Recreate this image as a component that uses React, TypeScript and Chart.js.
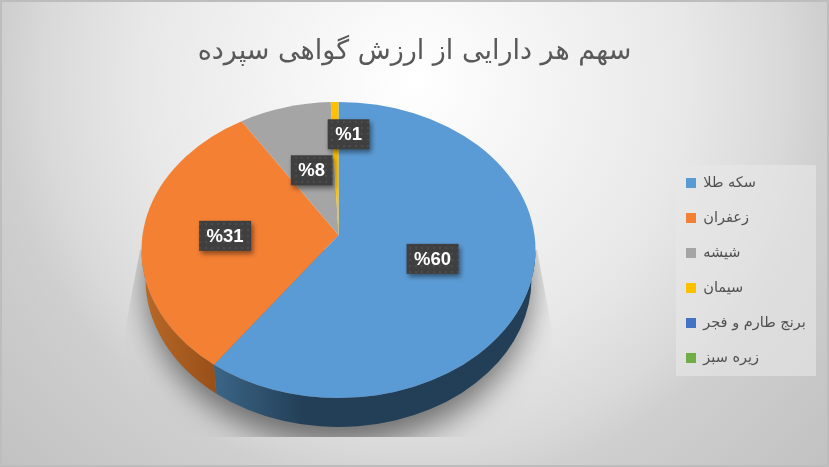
import React, { useEffect, useRef } from 'react';
import { Chart, registerables } from 'chart.js';

Chart.register(...registerables);

const labels = ['سکه طلا', 'زعفران', 'شیشه', 'سیمان', 'برنج طارم و فجر', 'زیره سبز'];
const shares = [60, 31, 8.3, 0.7, 0, 0];
const colors = ['#5b9bd5', '#f48034', '#a5a5a5', '#ffc000', '#4472c4', '#70ad47'];
const chartTitle = 'سهم هر دارایی از ارزش گواهی سپرده';

// fake 3D look, the pie controller only gives us the angles
const pie = { cx: 338.5, cy: 250, rx: 197, ry: 148, apexY: 235, lowRx: 193, depth: 29, warp: 0.096 };
const wallStops: Record<number, [string, string, number]> = {
  0: ['#3b6587', '#233f57', 90],
  1: ['#b86a28', '#9a5019', 70],
};
const labelSpots = [
  { f: 0.5, dx: -2, dy: 0 },
  { f: 0.57, dx: -2, dy: 3 },
  { f: 0.5, dx: 0, dy: -1 },
  { f: 0.75, dx: 13, dy: -1 },
];

const warped = (theta: number) => theta - pie.warp * Math.sin(theta);
const toParam = (theta: number) => warped(theta) - Math.PI / 2;

const dotPattern = (ctx: CanvasRenderingContext2D) => {
  const tile = document.createElement('canvas');
  tile.width = 6;
  tile.height = 6;
  const t = tile.getContext('2d')!;
  t.fillStyle = '#3f3f3f';
  t.fillRect(0, 0, 6, 6);
  t.fillStyle = '#4c4c4c';
  t.fillRect(1, 1, 2, 2);
  return ctx.createPattern(tile, 'repeat')!;
};

const tiltedPie = {
  id: 'tiltedPie',
  beforeDraw(chart: any) {
    const { ctx, width, height } = chart;
    const bg = ctx.createRadialGradient(414, 80, 0, 414, 80, 580);
    bg.addColorStop(0, '#ffffff');
    bg.addColorStop(0.47, '#e8e8e8');
    bg.addColorStop(0.64, '#d9d9d9');
    bg.addColorStop(0.71, '#cfcfcf');
    bg.addColorStop(1, '#c0c0c0');
    ctx.fillStyle = bg;
    ctx.fillRect(0, 0, width, height);
    ctx.strokeStyle = '#bdbdbd';
    ctx.lineWidth = 2;
    ctx.strokeRect(1, 1, width - 2, height - 2);
    ctx.fillStyle = 'rgba(232,232,232,0.6)';
    ctx.fillRect(676, 165, 140, 211);
  },
  afterLayout(chart: any) {
    const legend = chart.legend;
    legend.left = 665.5;
    legend.right = 665.5 + legend.width;
    legend.top = 155.25;
    legend.bottom = 155.25 + legend.height;
  },
  beforeDatasetsDraw(chart: any) {
    const { ctx } = chart;
    const arcs = chart.getDatasetMeta(0).data;
    const lowY = pie.cy + pie.depth;

    // shadow only, the ellipse itself sits off the canvas. cut off by a box like the original
    ctx.save();
    ctx.beginPath();
    ctx.moveTo(140, 250);
    ctx.lineTo(537, 250);
    ctx.lineTo(552, 330);
    ctx.lineTo(552, 437);
    ctx.lineTo(125, 437);
    ctx.lineTo(125, 330);
    ctx.closePath();
    ctx.clip();
    ctx.shadowColor = 'rgba(0,0,0,0.5)';
    ctx.shadowBlur = 30;
    ctx.shadowOffsetX = 2000;
    ctx.shadowOffsetY = 6;
    ctx.fillStyle = '#000';
    ctx.beginPath();
    ctx.ellipse(pie.cx - 2000, lowY, pie.lowRx, pie.ry + 12, 0, 0, Math.PI * 2);
    ctx.fill();
    ctx.restore();

    // walls
    arcs.forEach((arc: any, i: number) => {
      if (arc.endAngle - arc.startAngle <= 0 || !wallStops[i]) return;
      const t0 = Math.max(toParam(arc.startAngle + Math.PI / 2), 0);
      const t1 = Math.min(toParam(arc.endAngle + Math.PI / 2), Math.PI);
      if (t1 <= t0) return;
      const [c0, c1, span] = wallStops[i];
      const fromLeft = pie.cx + pie.rx * Math.cos(t1);
      const grad = ctx.createLinearGradient(fromLeft, 0, fromLeft + span, 0);
      grad.addColorStop(0, c0);
      grad.addColorStop(1, c1);
      ctx.fillStyle = grad;
      ctx.beginPath();
      ctx.ellipse(pie.cx, pie.cy, pie.rx, pie.ry, 0, t0, t1);
      ctx.ellipse(pie.cx, lowY, pie.lowRx, pie.ry, 0, t1, t0, true);
      ctx.closePath();
      ctx.fill();
    });

    // top face
    arcs.forEach((arc: any, i: number) => {
      if (arc.endAngle - arc.startAngle <= 0) return;
      ctx.fillStyle = colors[i];
      ctx.beginPath();
      ctx.moveTo(pie.cx, pie.apexY);
      ctx.ellipse(pie.cx, pie.cy, pie.rx, pie.ry, 0, toParam(arc.startAngle + Math.PI / 2), toParam(arc.endAngle + Math.PI / 2));
      ctx.closePath();
      ctx.fill();
    });
    return false;
  },
  // returning false above skips afterDatasetsDraw, so the labels go here
  afterDraw(chart: any) {
    const { ctx } = chart;
    const arcs = chart.getDatasetMeta(0).data;
    ctx.save();
    ctx.font = 'bold 18.5px "Liberation Sans"';
    ctx.textAlign = 'center';
    ctx.textBaseline = 'middle';
    ctx.direction = 'ltr';
    const pattern = dotPattern(ctx);
    arcs.forEach((arc: any, i: number) => {
      if (!shares[i]) return;
      const mid = (arc.startAngle + arc.endAngle) / 2 + Math.PI / 2;
      const t = toParam(mid);
      const spot = labelSpots[i];
      const rimX = pie.cx + pie.rx * Math.cos(t);
      const rimY = pie.cy + pie.ry * Math.sin(t);
      const x = pie.cx + (rimX - pie.cx) * spot.f + spot.dx;
      const y = pie.apexY + (rimY - pie.apexY) * spot.f + spot.dy;
      const text = `%${Math.round(shares[i])}`;
      const w = ctx.measureText(text).width + 15;
      ctx.save();
      ctx.shadowColor = 'rgba(0,0,0,0.45)';
      ctx.shadowBlur = 5;
      ctx.shadowOffsetX = 2;
      ctx.shadowOffsetY = 3;
      ctx.fillStyle = pattern;
      ctx.fillRect(x - w / 2, y - 15, w, 30);
      ctx.restore();
      ctx.fillStyle = '#ffffff';
      ctx.fillText(text, x, y + 1);
    });
    ctx.restore();
  },
};

const App: React.FC = () => {
  const canvasRef = useRef<HTMLCanvasElement | null>(null);

  useEffect(() => {
    document.body.style.margin = '0';
    if (!canvasRef.current) return;
    const chart = new Chart(canvasRef.current, {
      type: 'pie',
      data: {
        labels,
        datasets: [{ data: shares, backgroundColor: colors, borderWidth: 0 }],
      },
      options: {
        responsive: false,
        animation: false,
        devicePixelRatio: 1,
        plugins: {
          title: {
            display: true,
            text: chartTitle,
            color: '#595959',
            font: { family: '"DejaVu Sans"', size: 27, weight: 'normal' },
            padding: { top: 36, bottom: 10 },
          },
          legend: {
            position: 'right',
            align: 'start',
            labels: {
              boxWidth: 10,
              boxHeight: 10,
              padding: 20.5,
              color: '#505050',
              font: { family: '"DejaVu Sans"', size: 14.5 },
            },
          },
          tooltip: { enabled: false },
        },
      },
      plugins: [tiltedPie],
    } as any);
    return () => chart.destroy();
  }, []);

  return <canvas ref={canvasRef} width={829} height={467} style={{ display: 'block' }} />;
};

export default App;
